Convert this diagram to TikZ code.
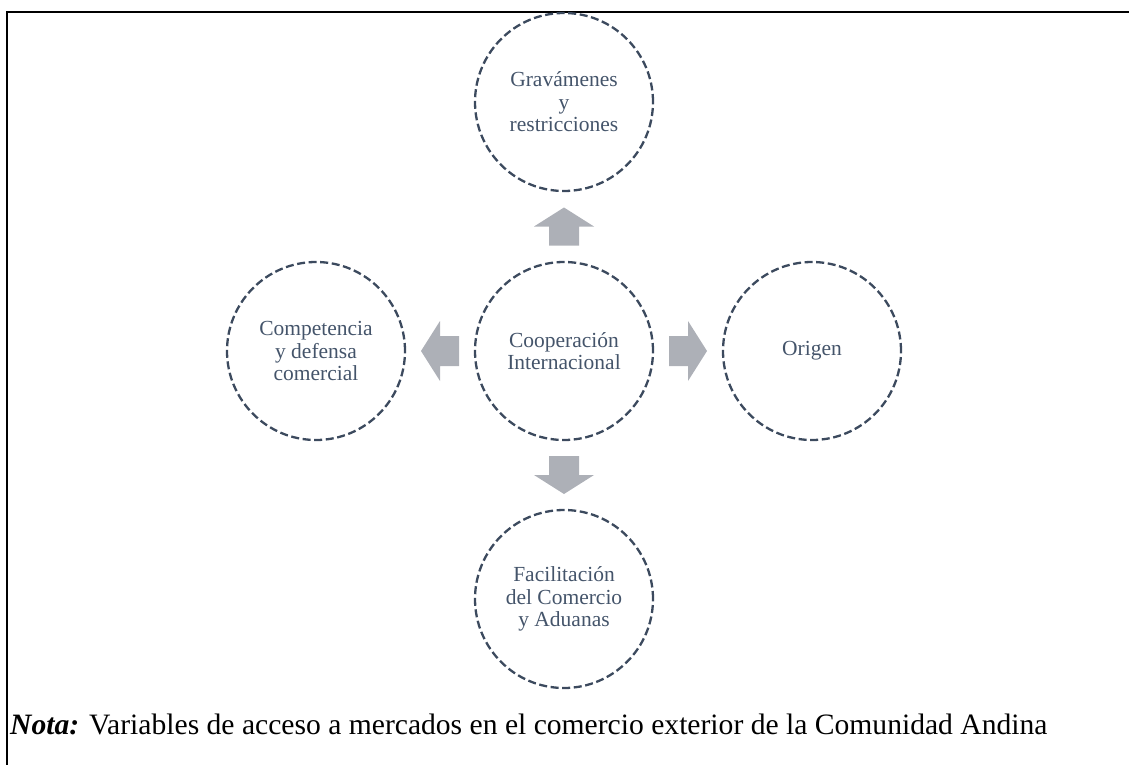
\documentclass[tikz,border=0pt]{standalone}
\usepackage{fontspec}
\setmainfont{Liberation Serif}
\usetikzlibrary{calc}
\definecolor{txtc}{HTML}{44546A}
\definecolor{ringc}{HTML}{3C4A5E}
\definecolor{arrc}{HTML}{ADB0B7}
\tikzset{
  x=1pt, y=1pt,
  ring/.style={circle, draw=ringc, line width=2.3pt, dash pattern=on 8pt off 3.6pt,
    minimum size=178pt, inner sep=0pt, align=center, text=txtc,
    font=\fontsize{21.5}{22.5}\selectfont},
  arrowfill/.style={fill=arrc, draw=none},
  frameline/.style={line width=2.3pt, black}
}
\begin{document}
\begin{tikzpicture}
\useasboundingbox (0,0) rectangle (1129,-765);
\draw[frameline] (7,-765) -- (7,-12) -- (1129,-12);
\node[ring] (c) at (564,-351) {Cooperación\\Internacional};
\node[ring] (t) at (564,-102) {Gravámenes\\y\\restricciones};
\node[ring] (b) at (564,-599) {Facilitación\\del Comercio\\y Aduanas};
\node[ring] (l) at (316,-351) {Competencia\\y defensa\\comercial};
\node[ring] (r) at (812,-351) {Origen};
\coordinate (mt) at ($(c.north)!0.5!(t.south)$);
\coordinate (mb) at ($(c.south)!0.5!(b.north)$);
\coordinate (ml) at ($(c.west)!0.5!(l.east)$);
\coordinate (mr) at ($(c.east)!0.5!(r.west)$);
\fill[arrowfill, shift={(mt)}, rotate=90] (-19,-15) -- (0,-15) -- (0,-30) -- (19,0) -- (0,30) -- (0,15) -- (-19,15) -- cycle;
\fill[arrowfill, shift={(mb)}, rotate=-90] (-19,-15) -- (0,-15) -- (0,-30) -- (19,0) -- (0,30) -- (0,15) -- (-19,15) -- cycle;
\fill[arrowfill, shift={(ml)}, rotate=180] (-19,-15) -- (0,-15) -- (0,-30) -- (19,0) -- (0,30) -- (0,15) -- (-19,15) -- cycle;
\fill[arrowfill, shift={(mr)}] (-19,-15) -- (0,-15) -- (0,-30) -- (19,0) -- (0,30) -- (0,15) -- (-19,15) -- cycle;
\node[anchor=base west, inner sep=0pt, font=\fontsize{29.6}{32}\selectfont] (nota) at (10,-734)
  {\textbf{\textit{Nota:}} Variables de acceso a mercados en el comercio exterior de la Comunidad Andina};
\end{tikzpicture}
\end{document}
